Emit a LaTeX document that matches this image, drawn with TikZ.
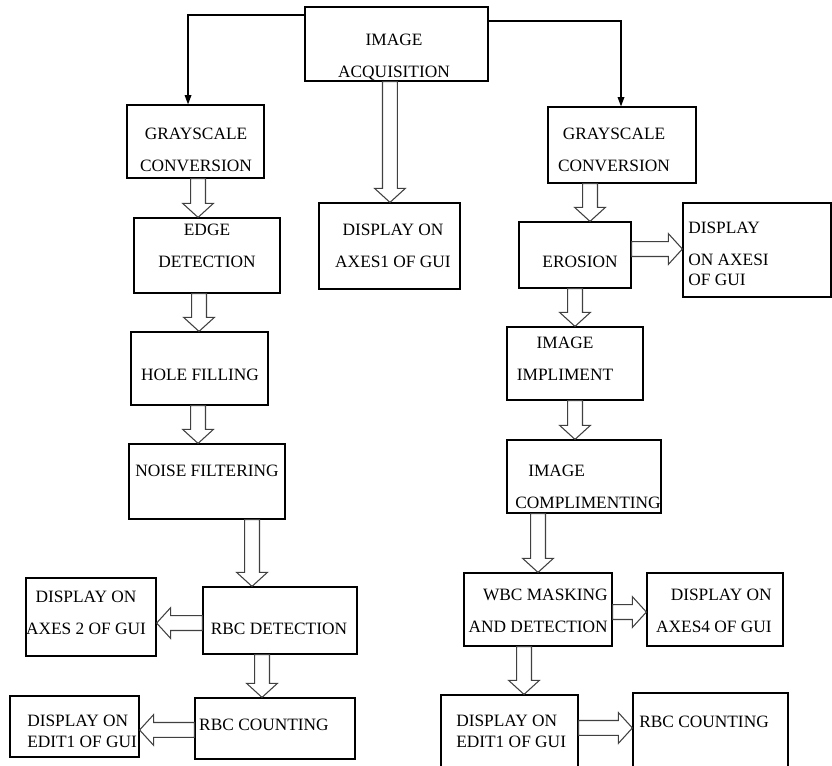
\documentclass[tikz,border=0pt]{standalone}
\usepackage{fontspec}
\setmainfont{Liberation Serif}
\usetikzlibrary{arrows.meta,calc,fit}

\tikzset{
  box/.style={draw, line width=0.9pt, inner sep=0pt},
  txt/.style={font=\fontsize{13}{24}\selectfont, inner sep=0pt},
  feed/.style={line width=0.9pt, -{Triangle[length=7pt,width=5pt]}},
  blockarrow/.style={draw=black!75, line width=0.8pt, to path={
    ($(\tikztostart)!5.6pt!90:(\tikztotarget)$)
    -- ($(\tikztotarget)!10.5pt!(\tikztostart)!5.6pt!90:(\tikztotarget)$)
    -- ($(\tikztotarget)!10.5pt!(\tikztostart)!11.5pt!90:(\tikztotarget)$)
    -- (\tikztotarget)
    -- ($(\tikztotarget)!10.5pt!(\tikztostart)!11.5pt!-90:(\tikztotarget)$)
    -- ($(\tikztotarget)!10.5pt!(\tikztostart)!5.6pt!-90:(\tikztotarget)$)
    -- ($(\tikztostart)!5.6pt!-90:(\tikztotarget)$) -- cycle}}
}

\begin{document}
\begin{tikzpicture}[x=0.75pt,y=-0.75pt]
\useasboundingbox (0,0) rectangle (832,765);
\clip (0,0) rectangle (832,765);

% boxes
\node[box, fit={(305,7) (488,81)}] (acq) {};
\node[box, fit={(127,105) (264,178)}] (gray1) {};
\node[box, fit={(548,107) (696,183)}] (gray2) {};
\node[box, fit={(319,203) (460,289)}] (disp1) {};
\node[box, fit={(134,218) (280,293)}] (edge) {};
\node[box, fit={(131,332) (268,405)}] (hole) {};
\node[box, fit={(129,444) (285,519)}] (noise) {};
\node[box, fit={(203,587) (357,654)}] (rbcdet) {};
\node[box, fit={(26,578) (156,656)}] (disp2) {};
\node[box, fit={(195,698) (355,759)}] (rbccnt1) {};
\node[box, fit={(10,696) (139,757)}] (disp3) {};
\node[box, fit={(519,222) (631,288)}] (erosion) {};
\node[box, fit={(683,203) (831,297)}] (dispi) {};
\node[box, fit={(507,327) (643,400)}] (impl) {};
\node[box, fit={(507,440) (661,513)}] (compl) {};
\node[box, fit={(464,573) (612,646)}] (wbc) {};
\node[box, fit={(647,573) (783,646)}] (disp4) {};
\node[box, fit={(441,695) (578,770)}] (disp5) {};
\node[box, fit={(633,693) (788,770)}] (rbccnt2) {};

% texts (base = last line)
\node[txt, align=center, anchor=base] (acqt) at (394,77) {IMAGE\\ACQUISITION};
\node[txt, align=center, anchor=base] (gray1t) at (196,171) {GRAYSCALE\\CONVERSION};
\node[txt, align=center, anchor=base] (gray2t) at (614,171) {GRAYSCALE\\CONVERSION};
\node[txt, align=center, anchor=base] (disp1t) at (393,267) {DISPLAY ON\\AXES1 OF GUI};
\node[txt, align=center, anchor=base] (edget) at (207,267) {EDGE\\DETECTION};
\node[txt, anchor=base] (holet) at (200,380) {HOLE FILLING};
\node[txt, anchor=base] (noiset) at (207,476) {NOISE FILTERING};
\node[txt, anchor=base] (rbcdett) at (279,634) {RBC DETECTION};
\node[txt, align=center, anchor=base] (disp2t) at (86,634) {DISPLAY ON\\AXES 2 OF GUI};
\node[txt, anchor=base] (rbccnt1t) at (264,730) {RBC COUNTING};
\node[txt, align=left, anchor=base west] (disp3t) at (27,747) {DISPLAY ON\\[-8.25pt]EDIT1 OF GUI};
\node[txt, anchor=base] (eroisont) at (580,267) {EROSION};
\node[txt, align=left, anchor=base west] (dispit) at (688,285) {DISPLAY\\ON AXESI\\[-9.5pt]OF GUI};
\node[txt, align=center, anchor=base] (implt) at (565,380) {IMAGE\\IMPLIMENT};
\node[txt, align=left, anchor=base west] (complt) at (515,508) {\hspace*{9.75pt}IMAGE\\COMPLIMENTING};
\node[txt, align=right, anchor=base east] (wbct) at (608,632) {WBC MASKING\\AND DETECTION};
\node[txt, align=right, anchor=base east] (disp4t) at (772,632) {DISPLAY ON\\AXES4 OF GUI};
\node[txt, align=left, anchor=base west] (disp5t) at (456,747) {DISPLAY ON\\[-8.25pt]EDIT1 OF GUI};
\node[txt, anchor=base west] (rbccnt2t) at (639,727) {RBC COUNTING};

% thin feeds
\draw[feed] ([yshift=21.75pt]acq.west) -| ([xshift=-5.6pt]gray1.north);
\draw[feed] ([yshift=17.25pt]acq.east) -| ([xshift=-0.75pt]gray2.north);

% block arrows
\coordinate (a1) at ([xshift=-4.9pt]acq.south);
\coordinate (a2) at ([xshift=1.9pt]gray1.south);
\coordinate (a3) at ([xshift=-6pt]edge.south);
\coordinate (a4) at ([xshift=-1.1pt]hole.south);
\coordinate (a5) at ([xshift=33.75pt]noise.south);
\coordinate (a6) at ([yshift=-1.9pt]rbcdet.west);
\coordinate (a7) at ([xshift=-13.5pt]rbcdet.south);
\coordinate (a8) at ([yshift=-1.1pt]rbccnt1.west);
\coordinate (a9) at ([xshift=-24pt]gray2.south);
\coordinate (a10) at ([yshift=4.5pt]erosion.east);
\coordinate (a11) at (erosion.south);
\coordinate (a12) at (impl.south);
\coordinate (a13) at ([xshift=-34.5pt]compl.south);
\coordinate (a14) at ([yshift=-1.9pt]wbc.east);
\coordinate (a15) at ([xshift=-10.5pt]wbc.south);
\coordinate (a16) at ([yshift=3.4pt]disp5.east);

\draw[blockarrow] (a1) to (a1 |- disp1.north);
\draw[blockarrow] (a2) to (a2 |- edge.north);
\draw[blockarrow] (a3) to (a3 |- hole.north);
\draw[blockarrow] (a4) to (a4 |- noise.north);
\draw[blockarrow] (a5) to (a5 |- rbcdet.north);
\draw[blockarrow] (a6) to (a6 -| disp2.east);
\draw[blockarrow] (a7) to (a7 |- rbccnt1.north);
\draw[blockarrow] (a8) to (a8 -| disp3.east);
\draw[blockarrow] (a9) to (a9 |- erosion.north);
\draw[blockarrow] (a10) to (a10 -| dispi.west);
\draw[blockarrow] (a11) to (a11 |- impl.north);
\draw[blockarrow] (a12) to (a12 |- compl.north);
\draw[blockarrow] (a13) to (a13 |- wbc.north);
\draw[blockarrow] (a14) to (a14 -| disp4.west);
\draw[blockarrow] (a15) to (a15 |- disp5.north);
\draw[blockarrow] (a16) to (a16 -| rbccnt2.west);
\end{tikzpicture}
\end{document}
